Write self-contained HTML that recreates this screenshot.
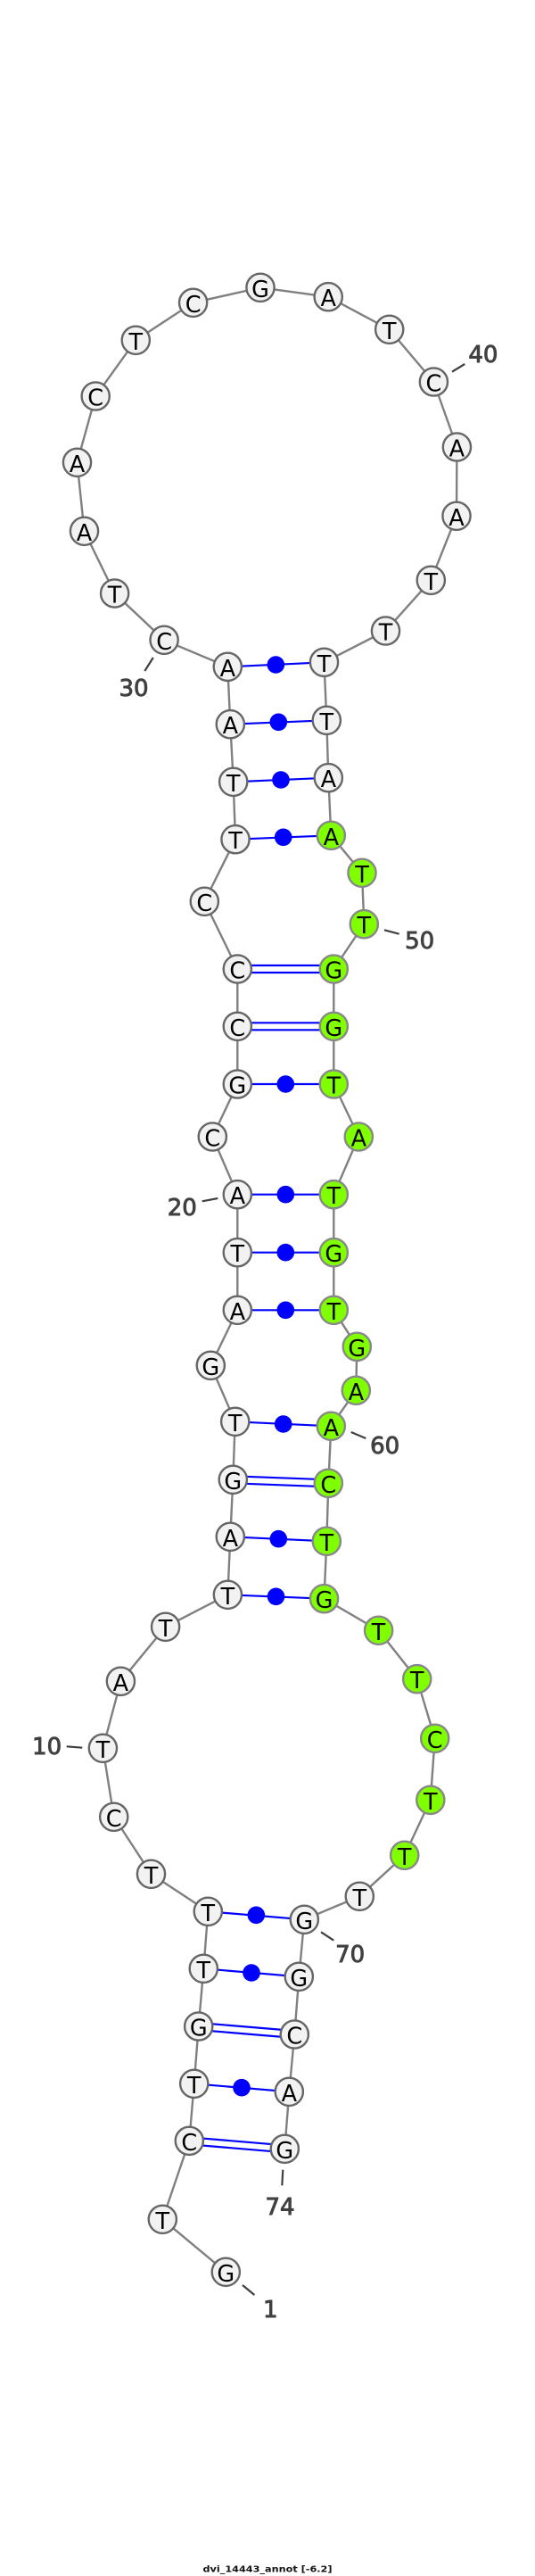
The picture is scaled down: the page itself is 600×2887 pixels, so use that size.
<!DOCTYPE html>
<html>
<head>
<meta charset="utf-8">
<style>
html,body{margin:0;padding:0;background:#fff;width:600px;height:2887px;overflow:hidden}
svg{display:block}
.b{fill:none;stroke:#808080;stroke-width:2.4}
.p{stroke:#0000ff;stroke-width:2.2;fill:none}
.d{fill:#0000ff}
.w{fill:#f2f2f2;stroke:#666;stroke-width:2.4}
.g{fill:#7fff00;stroke:#888;stroke-width:2.4}
.t{font-family:"DejaVu Sans","Liberation Sans",sans-serif;font-size:25.5px;text-anchor:middle;fill:#000;transform:translateY(2px)}
.l{font-family:"DejaVu Sans","Liberation Sans",sans-serif;font-size:26px;text-anchor:middle;fill:#404040;stroke:#404040;stroke-width:.9}
.k{stroke:#404040;stroke-width:2.2;fill:none}
.c{font-family:"DejaVu Sans","Liberation Sans",sans-serif;font-size:10px;font-weight:bold;text-anchor:middle;fill:#111}
</style>
</head>
<body>
<svg width="600" height="2887" viewBox="0 0 600 2887" xmlns="http://www.w3.org/2000/svg">
<polyline class="b" points="253.3,2546.3 182.3,2487.3 212.3,2399.3 217.7,2335.3 222.7,2271 228.3,2206.3 233.3,2142.3 169.5,2100.3 127.7,2036.3 115.4,1959.3 135.4,1884.3 185.6,1823.3 255.4,1787.3 258.3,1722.3 261.3,1658.3 263.7,1593.3 236.3,1530.3 266.3,1468.3 266.3,1403.7 266.3,1338.7 238.3,1274 266.3,1215 266.3,1150.3 266.3,1086 229.3,1010.3 264,940.7 261.7,876.3 258.3,811.7 255.3,747.3 184.1,717.3 128.6,665 94.5,595.3 86.5,518.3 107.2,444 152.3,381.3 216.6,339.3 292,322.3 368.2,332.7 436.7,369.3 486.4,428 512.4,501 512,578.3 483.3,650.3 432.5,707 363.5,742.3 366.3,807.3 368.3,871.7 371.3,936.3 406,978.3 408.3,1035.7 374.3,1086 374.3,1150.3 374.3,1215 402.3,1274 374.3,1338.7 374.3,1403.7 374.3,1468.3 400.3,1509.3 399.3,1558.3 371.3,1598.3 368.3,1662.3 366.3,1727.3 363.5,1791.7 424.6,1827.3 467.7,1881.7 487.7,1948.3 482.8,2017.3 453.7,2079.3 403.3,2125.3 341.3,2151.3 335.3,2215.3 330.3,2280 324.3,2344.3 319.3,2408.3"/>

<!-- base pairs -->
<line class="p" x1="255.3" y1="747.3" x2="363.5" y2="742.3"/><circle class="d" cx="309.3" cy="745" r="9.8"/>
<line class="p" x1="258.3" y1="811.7" x2="366.3" y2="807.3"/><circle class="d" cx="312.3" cy="809.3" r="9.8"/>
<line class="p" x1="261.7" y1="876.3" x2="368.3" y2="871.7"/><circle class="d" cx="315" cy="874" r="9.8"/>
<line class="p" x1="264" y1="940.7" x2="371.3" y2="936.3"/><circle class="d" cx="317.7" cy="938.3" r="9.8"/>
<line class="p" x1="266.3" y1="1082" x2="374.3" y2="1082"/><line class="p" x1="266.3" y1="1090" x2="374.3" y2="1090"/>
<line class="p" x1="266.3" y1="1146.3" x2="374.3" y2="1146.3"/><line class="p" x1="266.3" y1="1154.3" x2="374.3" y2="1154.3"/>
<line class="p" x1="266.3" y1="1215" x2="374.3" y2="1215"/><circle class="d" cx="320.3" cy="1215" r="9.8"/>
<line class="p" x1="266.3" y1="1338.7" x2="374.3" y2="1338.7"/><circle class="d" cx="320.3" cy="1338.7" r="9.8"/>
<line class="p" x1="266.3" y1="1403.7" x2="374.3" y2="1403.7"/><circle class="d" cx="320.3" cy="1403.7" r="9.8"/>
<line class="p" x1="266.3" y1="1468.3" x2="374.3" y2="1468.3"/><circle class="d" cx="320.3" cy="1468.3" r="9.8"/>
<line class="p" x1="263.7" y1="1593.3" x2="371.3" y2="1598.3"/><circle class="d" cx="317.7" cy="1596" r="9.8"/>
<line class="p" x1="261.3" y1="1654.3" x2="368.3" y2="1658.3"/><line class="p" x1="261.3" y1="1662.3" x2="368.3" y2="1666.3"/>
<line class="p" x1="258.3" y1="1722.3" x2="366.3" y2="1727.3"/><circle class="d" cx="312.3" cy="1724.7" r="9.8"/>
<line class="p" x1="255.4" y1="1787.3" x2="363.5" y2="1791.7"/><circle class="d" cx="309.5" cy="1789.3" r="9.8"/>
<line class="p" x1="233.3" y1="2142.3" x2="341.3" y2="2151.3"/><circle class="d" cx="287.3" cy="2146.3" r="9.8"/>
<line class="p" x1="228.3" y1="2206.3" x2="335.3" y2="2215.3"/><circle class="d" cx="282" cy="2211" r="9.8"/>
<line class="p" x1="222.7" y1="2267" x2="330.3" y2="2276"/><line class="p" x1="222.7" y1="2275" x2="330.3" y2="2284"/>
<line class="p" x1="217.7" y1="2335.3" x2="324.3" y2="2344.3"/><circle class="d" cx="271" cy="2339.7" r="9.8"/>
<line class="p" x1="212.3" y1="2395.3" x2="319.3" y2="2404.3"/><line class="p" x1="212.3" y1="2403.3" x2="319.3" y2="2412.3"/>

<!-- white nodes -->
<circle class="w" cx="253.3" cy="2546.3" r="15.6"/><text class="t" x="253.3" y="2554.8">G</text>
<circle class="w" cx="182.3" cy="2487.3" r="15.6"/><text class="t" x="182.3" y="2495.8">T</text>
<circle class="w" cx="212.3" cy="2399.3" r="15.6"/><text class="t" x="212.3" y="2407.8">C</text>
<circle class="w" cx="217.7" cy="2335.3" r="15.6"/><text class="t" x="217.7" y="2343.8">T</text>
<circle class="w" cx="222.7" cy="2271" r="15.6"/><text class="t" x="222.7" y="2279.5">G</text>
<circle class="w" cx="228.3" cy="2206.3" r="15.6"/><text class="t" x="228.3" y="2214.8">T</text>
<circle class="w" cx="233.3" cy="2142.3" r="15.6"/><text class="t" x="233.3" y="2150.8">T</text>
<circle class="w" cx="169.5" cy="2100.3" r="15.6"/><text class="t" x="169.5" y="2108.8">T</text>
<circle class="w" cx="127.7" cy="2036.3" r="15.6"/><text class="t" x="127.7" y="2044.8">C</text>
<circle class="w" cx="115.4" cy="1959.3" r="15.6"/><text class="t" x="115.4" y="1967.8">T</text>
<circle class="w" cx="135.4" cy="1884.3" r="15.6"/><text class="t" x="135.4" y="1892.8">A</text>
<circle class="w" cx="185.6" cy="1823.3" r="15.6"/><text class="t" x="185.6" y="1831.8">T</text>
<circle class="w" cx="255.4" cy="1787.3" r="15.6"/><text class="t" x="255.4" y="1795.8">T</text>
<circle class="w" cx="258.3" cy="1722.3" r="15.6"/><text class="t" x="258.3" y="1730.8">A</text>
<circle class="w" cx="261.3" cy="1658.3" r="15.6"/><text class="t" x="261.3" y="1666.8">G</text>
<circle class="w" cx="263.7" cy="1593.3" r="15.6"/><text class="t" x="263.7" y="1601.8">T</text>
<circle class="w" cx="236.3" cy="1530.3" r="15.6"/><text class="t" x="236.3" y="1538.8">G</text>
<circle class="w" cx="266.3" cy="1468.3" r="15.6"/><text class="t" x="266.3" y="1476.8">A</text>
<circle class="w" cx="266.3" cy="1403.7" r="15.6"/><text class="t" x="266.3" y="1412.2">T</text>
<circle class="w" cx="266.3" cy="1338.7" r="15.6"/><text class="t" x="266.3" y="1347.2">A</text>
<circle class="w" cx="238.3" cy="1274" r="15.6"/><text class="t" x="238.3" y="1282.5">C</text>
<circle class="w" cx="266.3" cy="1215" r="15.6"/><text class="t" x="266.3" y="1223.5">G</text>
<circle class="w" cx="266.3" cy="1150.3" r="15.6"/><text class="t" x="266.3" y="1158.8">C</text>
<circle class="w" cx="266.3" cy="1086" r="15.6"/><text class="t" x="266.3" y="1094.5">C</text>
<circle class="w" cx="229.3" cy="1010.3" r="15.6"/><text class="t" x="229.3" y="1018.8">C</text>
<circle class="w" cx="264" cy="940.7" r="15.6"/><text class="t" x="264" y="949.2">T</text>
<circle class="w" cx="261.7" cy="876.3" r="15.6"/><text class="t" x="261.7" y="884.8">T</text>
<circle class="w" cx="258.3" cy="811.7" r="15.6"/><text class="t" x="258.3" y="820.2">A</text>
<circle class="w" cx="255.3" cy="747.3" r="15.6"/><text class="t" x="255.3" y="755.8">A</text>
<circle class="w" cx="184.1" cy="717.3" r="15.6"/><text class="t" x="184.1" y="725.8">C</text>
<circle class="w" cx="128.6" cy="665" r="15.6"/><text class="t" x="128.6" y="673.5">T</text>
<circle class="w" cx="94.5" cy="595.3" r="15.6"/><text class="t" x="94.5" y="603.8">A</text>
<circle class="w" cx="86.5" cy="518.3" r="15.6"/><text class="t" x="86.5" y="526.8">A</text>
<circle class="w" cx="107.2" cy="444" r="15.6"/><text class="t" x="107.2" y="452.5">C</text>
<circle class="w" cx="152.3" cy="381.3" r="15.6"/><text class="t" x="152.3" y="389.8">T</text>
<circle class="w" cx="216.6" cy="339.3" r="15.6"/><text class="t" x="216.6" y="347.8">C</text>
<circle class="w" cx="292" cy="322.3" r="15.6"/><text class="t" x="292" y="330.8">G</text>
<circle class="w" cx="368.2" cy="332.7" r="15.6"/><text class="t" x="368.2" y="341.2">A</text>
<circle class="w" cx="436.7" cy="369.3" r="15.6"/><text class="t" x="436.7" y="377.8">T</text>
<circle class="w" cx="486.4" cy="428" r="15.6"/><text class="t" x="486.4" y="436.5">C</text>
<circle class="w" cx="512.4" cy="501" r="15.6"/><text class="t" x="512.4" y="509.5">A</text>
<circle class="w" cx="512" cy="578.3" r="15.6"/><text class="t" x="512" y="586.8">A</text>
<circle class="w" cx="483.3" cy="650.3" r="15.6"/><text class="t" x="483.3" y="658.8">T</text>
<circle class="w" cx="432.5" cy="707" r="15.6"/><text class="t" x="432.5" y="715.5">T</text>
<circle class="w" cx="363.5" cy="742.3" r="15.6"/><text class="t" x="363.5" y="750.8">T</text>
<circle class="w" cx="366.3" cy="807.3" r="15.6"/><text class="t" x="366.3" y="815.8">T</text>
<circle class="w" cx="368.3" cy="871.7" r="15.6"/><text class="t" x="368.3" y="880.2">A</text>

<!-- green nodes -->
<circle class="g" cx="371.3" cy="936.3" r="15.6"/><text class="t" x="371.3" y="944.8">A</text>
<circle class="g" cx="406" cy="978.3" r="15.6"/><text class="t" x="406" y="986.8">T</text>
<circle class="g" cx="408.3" cy="1035.7" r="15.6"/><text class="t" x="408.3" y="1044.2">T</text>
<circle class="g" cx="374.3" cy="1086" r="15.6"/><text class="t" x="374.3" y="1094.5">G</text>
<circle class="g" cx="374.3" cy="1150.3" r="15.6"/><text class="t" x="374.3" y="1158.8">G</text>
<circle class="g" cx="374.3" cy="1215" r="15.6"/><text class="t" x="374.3" y="1223.5">T</text>
<circle class="g" cx="402.3" cy="1274" r="15.6"/><text class="t" x="402.3" y="1282.5">A</text>
<circle class="g" cx="374.3" cy="1338.7" r="15.6"/><text class="t" x="374.3" y="1347.2">T</text>
<circle class="g" cx="374.3" cy="1403.7" r="15.6"/><text class="t" x="374.3" y="1412.2">G</text>
<circle class="g" cx="374.3" cy="1468.3" r="15.6"/><text class="t" x="374.3" y="1476.8">T</text>
<circle class="g" cx="400.3" cy="1509.3" r="15.6"/><text class="t" x="400.3" y="1517.8">G</text>
<circle class="g" cx="399.3" cy="1558.3" r="15.6"/><text class="t" x="399.3" y="1566.8">A</text>
<circle class="g" cx="371.3" cy="1598.3" r="15.6"/><text class="t" x="371.3" y="1606.8">A</text>
<circle class="g" cx="368.3" cy="1662.3" r="15.6"/><text class="t" x="368.3" y="1670.8">C</text>
<circle class="g" cx="366.3" cy="1727.3" r="15.6"/><text class="t" x="366.3" y="1735.8">T</text>
<circle class="g" cx="363.5" cy="1791.7" r="15.6"/><text class="t" x="363.5" y="1800.2">G</text>
<circle class="g" cx="424.6" cy="1827.3" r="15.6"/><text class="t" x="424.6" y="1835.8">T</text>
<circle class="g" cx="467.7" cy="1881.7" r="15.6"/><text class="t" x="467.7" y="1890.2">T</text>
<circle class="g" cx="487.7" cy="1948.3" r="15.6"/><text class="t" x="487.7" y="1956.8">C</text>
<circle class="g" cx="482.8" cy="2017.3" r="15.6"/><text class="t" x="482.8" y="2025.8">T</text>
<circle class="g" cx="453.7" cy="2079.3" r="15.6"/><text class="t" x="453.7" y="2087.8">T</text>

<!-- white 3' nodes -->
<circle class="w" cx="403.3" cy="2125.3" r="15.6"/><text class="t" x="403.3" y="2133.8">T</text>
<circle class="w" cx="341.3" cy="2151.3" r="15.6"/><text class="t" x="341.3" y="2159.8">G</text>
<circle class="w" cx="335.3" cy="2215.3" r="15.6"/><text class="t" x="335.3" y="2223.8">G</text>
<circle class="w" cx="330.3" cy="2280" r="15.6"/><text class="t" x="330.3" y="2288.5">C</text>
<circle class="w" cx="324.3" cy="2344.3" r="15.6"/><text class="t" x="324.3" y="2352.8">A</text>
<circle class="w" cx="319.3" cy="2408.3" r="15.6"/><text class="t" x="319.3" y="2416.8">G</text>

<!-- number ticks and labels -->
<line class="k" x1="272" y1="2561" x2="285.3" y2="2572"/><text class="l" x="303.3" y="2596.8">1</text>
<line class="k" x1="74.7" y1="1957.3" x2="92.3" y2="1958.7"/><text class="l" x="52.6" y="1966.2">10</text>
<line class="k" x1="226.7" y1="1346.3" x2="244.3" y2="1343"/><text class="l" x="204.3" y="1361.8">20</text>
<line class="k" x1="171.8" y1="737" x2="162.3" y2="752"/><text class="l" x="150" y="780.2">30</text>
<line class="k" x1="507" y1="416.7" x2="521.2" y2="408"/><text class="l" x="541.9" y="406.2">40</text>
<line class="k" x1="431" y1="1042.3" x2="447.7" y2="1046.7"/><text class="l" x="470.7" y="1062.8">50</text>
<line class="k" x1="393.7" y1="1605" x2="410.3" y2="1612"/><text class="l" x="431.7" y="1628.8">60</text>
<line class="k" x1="360" y1="2165.3" x2="374.3" y2="2174.7"/><text class="l" x="392.7" y="2198.8">70</text>
<line class="k" x1="317.3" y1="2431.7" x2="316.3" y2="2449.3"/><text class="l" x="314" y="2481.8">74</text>

<text class="c" x="300" y="2882.5" textLength="145" lengthAdjust="spacingAndGlyphs">dvi_14443_annot [-6.2]</text>
</svg>
</body>
</html>
